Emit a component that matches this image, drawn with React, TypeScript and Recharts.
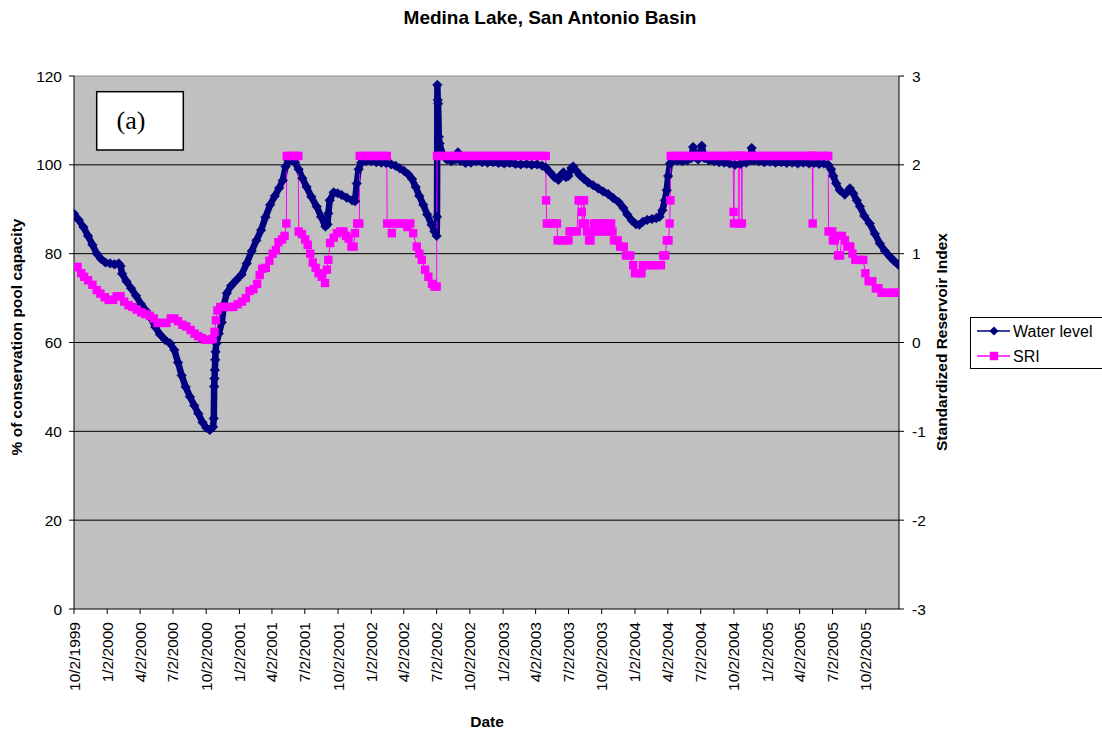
import React from 'react';
import { LineChart, Line, XAxis, YAxis, CartesianGrid, ReferenceLine } from 'recharts';

const FONT = 'Arial, "Liberation Sans", sans-serif';
const NAVY = '#000080';
const PINK = '#FF00FF';

// quarterly date ticks on the category axis
const dateTicks = [
  '10/2/1999', '1/2/2000', '4/2/2000', '7/2/2000', '10/2/2000', '1/2/2001', '4/2/2001',
  '7/2/2001', '10/2/2001', '1/2/2002', '4/2/2002', '7/2/2002', '10/2/2002', '1/2/2003',
  '4/2/2003', '7/2/2003', '10/2/2003', '1/2/2004', '4/2/2004', '7/2/2004', '10/2/2004',
  '1/2/2005', '4/2/2005', '7/2/2005', '10/2/2005',
];
const axisEnd = '1/2/2006';
const leftTicks = [0, 20, 40, 60, 80, 100, 120];
const rightTicks = [-3, -2, -1, 0, 1, 2, 3];

// % of conservation pool capacity
const waterLevel: [string, number][] = [
  ['1999-10-02', 89.0], ['1999-10-15', 87.6], ['1999-10-28', 86.0], ['1999-11-10', 84.0],
  ['1999-11-22', 82.0], ['1999-12-04', 80.0], ['1999-12-16', 78.8], ['1999-12-28', 78.0],
  ['2000-01-10', 77.8], ['2000-01-22', 77.6], ['2000-02-03', 77.8], ['2000-02-08', 77.2],
  ['2000-02-12', 75.5], ['2000-02-24', 73.8], ['2000-03-08', 72.2], ['2000-03-22', 70.5],
  ['2000-04-05', 68.6], ['2000-04-18', 67.2], ['2000-05-01', 65.6], ['2000-05-14', 63.5],
  ['2000-05-27', 61.8], ['2000-06-10', 60.6], ['2000-06-24', 59.8], ['2000-07-06', 58.3],
  ['2000-07-16', 55.5], ['2000-07-26', 52.6], ['2000-08-06', 50.0], ['2000-08-18', 47.8],
  ['2000-08-30', 45.8], ['2000-09-10', 44.0], ['2000-09-22', 42.0], ['2000-10-02', 40.8],
  ['2000-10-12', 40.3], ['2000-10-21', 41.0], ['2000-10-23', 42.9], ['2000-10-24', 50.1],
  ['2000-10-25', 51.9], ['2000-10-26', 53.8], ['2000-10-27', 56.1], ['2000-10-28', 57.9],
  ['2000-10-30', 59.8], ['2000-11-06', 62.0], ['2000-11-14', 64.5], ['2000-11-20', 68.5],
  ['2000-11-28', 71.1], ['2000-12-10', 72.8], ['2000-12-24', 74.0], ['2001-01-08', 75.3],
  ['2001-01-22', 77.8], ['2001-02-05', 80.6], ['2001-02-18', 83.0], ['2001-03-03', 85.3],
  ['2001-03-15', 88.2], ['2001-03-28', 91.0], ['2001-04-10', 93.0], ['2001-04-22', 94.8],
  ['2001-05-02', 96.5], ['2001-05-10', 99.6], ['2001-05-18', 101.0], ['2001-05-26', 101.1],
  ['2001-06-05', 100.5], ['2001-06-15', 99.0], ['2001-06-25', 97.0], ['2001-07-07', 95.0],
  ['2001-07-20', 92.8], ['2001-08-04', 90.6], ['2001-08-16', 88.3], ['2001-08-28', 86.1],
  ['2001-09-03', 86.6], ['2001-09-05', 89.1], ['2001-09-09', 92.0], ['2001-09-20', 93.8],
  ['2001-10-01', 93.6], ['2001-10-12', 93.2], ['2001-10-26', 92.6], ['2001-11-10', 92.0],
  ['2001-11-18', 91.8], ['2001-11-23', 95.8], ['2001-11-28', 99.0], ['2001-12-05', 100.5],
  ['2001-12-18', 100.8], ['2002-01-02', 100.8], ['2002-01-16', 100.6], ['2002-01-30', 100.5],
  ['2002-02-12', 100.4], ['2002-02-26', 100.1], ['2002-03-10', 99.8], ['2002-03-22', 99.2],
  ['2002-04-03', 98.6], ['2002-04-15', 97.8], ['2002-04-25', 96.8], ['2002-05-05', 95.0],
  ['2002-05-15', 93.0], ['2002-05-26', 91.0], ['2002-06-06', 88.8], ['2002-06-18', 86.5],
  ['2002-06-26', 85.0], ['2002-07-02', 84.0], ['2002-07-03', 88.3], ['2002-07-04', 118.0],
  ['2002-07-05', 114.6], ['2002-07-06', 113.8], ['2002-07-08', 106.3], ['2002-07-10', 104.8],
  ['2002-07-18', 102.5], ['2002-07-30', 101.2], ['2002-08-12', 100.8], ['2002-08-24', 101.2],
  ['2002-08-30', 102.8], ['2002-09-06', 100.9], ['2002-09-20', 100.4], ['2002-10-05', 100.5],
  ['2002-10-20', 100.8], ['2002-11-05', 100.6], ['2002-11-20', 100.5], ['2002-12-05', 100.6],
  ['2002-12-20', 100.4], ['2003-01-05', 100.3], ['2003-01-20', 100.4], ['2003-02-05', 100.2],
  ['2003-02-20', 100.1], ['2003-03-08', 100.2], ['2003-03-22', 100.0], ['2003-04-06', 100.1],
  ['2003-04-20', 99.8], ['2003-04-30', 99.4], ['2003-05-12', 98.3], ['2003-05-24', 97.2],
  ['2003-06-04', 96.6], ['2003-06-12', 97.8], ['2003-06-18', 98.3], ['2003-06-25', 97.2],
  ['2003-07-02', 97.5], ['2003-07-10', 99.3], ['2003-07-15', 99.6], ['2003-07-24', 98.6],
  ['2003-08-03', 97.6], ['2003-08-14', 96.8], ['2003-08-26', 96.0], ['2003-09-08', 95.4],
  ['2003-09-22', 94.7], ['2003-10-06', 94.0], ['2003-10-20', 93.4], ['2003-11-03', 92.5],
  ['2003-11-18', 91.6], ['2003-12-01', 90.3], ['2003-12-12', 88.8], ['2003-12-24', 87.5],
  ['2004-01-05', 86.6], ['2004-01-14', 86.5], ['2004-01-24', 87.2], ['2004-02-05', 87.6],
  ['2004-02-18', 87.8], ['2004-03-01', 88.0], ['2004-03-10', 88.3], ['2004-03-18', 89.8],
  ['2004-03-25', 92.0], ['2004-03-30', 94.3], ['2004-04-03', 97.5], ['2004-04-08', 100.3],
  ['2004-04-15', 100.8], ['2004-04-28', 101.0], ['2004-05-12', 100.8], ['2004-05-26', 101.0],
  ['2004-06-06', 101.5], ['2004-06-11', 104.0], ['2004-06-16', 101.8], ['2004-06-25', 101.2],
  ['2004-07-05', 104.3], ['2004-07-12', 101.5], ['2004-07-25', 101.0], ['2004-08-08', 100.8],
  ['2004-08-22', 100.6], ['2004-09-05', 100.5], ['2004-09-20', 100.3], ['2004-10-05', 100.0],
  ['2004-10-20', 100.2], ['2004-11-05', 100.5], ['2004-11-16', 101.0], ['2004-11-20', 103.8],
  ['2004-11-26', 101.0], ['2004-12-10', 100.8], ['2004-12-25', 100.6], ['2005-01-10', 100.7],
  ['2005-01-25', 100.5], ['2005-02-10', 100.6], ['2005-02-25', 100.4], ['2005-03-12', 100.5],
  ['2005-03-28', 100.3], ['2005-04-12', 100.5], ['2005-04-28', 100.3], ['2005-05-12', 100.4],
  ['2005-05-26', 100.2], ['2005-06-08', 100.3], ['2005-06-20', 100.0], ['2005-06-28', 99.0],
  ['2005-07-04', 97.5], ['2005-07-12', 95.8], ['2005-07-22', 94.3], ['2005-08-05', 93.3],
  ['2005-08-19', 94.7], ['2005-08-28', 93.6], ['2005-09-07', 92.0], ['2005-09-16', 90.6],
  ['2005-09-28', 88.5], ['2005-10-13', 86.8], ['2005-10-27', 84.5], ['2005-11-10', 82.3],
  ['2005-11-24', 80.6], ['2005-12-08', 79.3], ['2005-12-20', 78.3], ['2005-12-31', 77.5],
];

// Standardized Reservoir Index
const sriValues: [string, number][] = [
  ['1999-10-02', 0.85], ['1999-10-12', 0.85], ['1999-10-22', 0.78], ['1999-10-30', 0.74],
  ['1999-11-10', 0.70], ['1999-11-22', 0.65], ['1999-12-04', 0.59], ['1999-12-14', 0.55],
  ['1999-12-26', 0.51], ['2000-01-06', 0.48], ['2000-01-18', 0.48], ['2000-01-28', 0.52],
  ['2000-02-08', 0.52], ['2000-02-18', 0.46], ['2000-03-01', 0.42], ['2000-03-12', 0.40],
  ['2000-03-24', 0.37], ['2000-04-05', 0.34], ['2000-04-17', 0.32], ['2000-04-29', 0.30],
  ['2000-05-10', 0.27], ['2000-05-20', 0.22], ['2000-06-01', 0.22], ['2000-06-14', 0.22],
  ['2000-06-26', 0.27], ['2000-07-06', 0.27], ['2000-07-16', 0.24], ['2000-07-28', 0.20],
  ['2000-08-08', 0.18], ['2000-08-20', 0.14], ['2000-08-31', 0.10], ['2000-09-10', 0.07],
  ['2000-09-20', 0.05], ['2000-09-30', 0.03], ['2000-10-10', 0.03], ['2000-10-20', 0.04],
  ['2000-10-25', 0.12], ['2000-10-29', 0.25], ['2000-11-02', 0.36], ['2000-11-10', 0.40],
  ['2000-11-22', 0.40], ['2000-12-04', 0.40], ['2000-12-16', 0.40], ['2000-12-28', 0.43],
  ['2001-01-09', 0.46], ['2001-01-20', 0.50], ['2001-01-30', 0.58], ['2001-02-10', 0.60],
  ['2001-02-20', 0.66], ['2001-02-27', 0.76], ['2001-03-06', 0.83], ['2001-03-16', 0.84],
  ['2001-03-26', 0.92], ['2001-04-04', 1.00], ['2001-04-13', 1.04], ['2001-04-20', 1.13],
  ['2001-04-30', 1.16], ['2001-05-07', 1.20], ['2001-05-12', 1.34], ['2001-05-13', 2.1],
  ['2001-05-22', 2.1], ['2001-06-01', 2.1], ['2001-06-10', 2.1], ['2001-06-14', 2.1],
  ['2001-06-15', 1.25], ['2001-06-24', 1.22], ['2001-07-03', 1.16], ['2001-07-10', 1.10],
  ['2001-07-17', 1.00], ['2001-07-24', 0.90], ['2001-08-01', 0.84], ['2001-08-09', 0.78],
  ['2001-08-18', 0.74], ['2001-08-27', 0.67], ['2001-09-01', 0.82], ['2001-09-05', 0.93],
  ['2001-09-10', 1.12], ['2001-09-20', 1.18], ['2001-09-29', 1.23], ['2001-10-08', 1.25],
  ['2001-10-17', 1.25], ['2001-10-24', 1.20], ['2001-10-31', 1.17], ['2001-11-08', 1.08],
  ['2001-11-14', 1.08], ['2001-11-18', 1.23], ['2001-11-24', 1.34], ['2001-11-30', 1.34],
  ['2001-12-01', 2.1], ['2001-12-12', 2.1], ['2001-12-24', 2.1], ['2002-01-05', 2.1],
  ['2002-01-16', 2.1], ['2002-01-27', 2.1], ['2002-02-06', 2.1], ['2002-02-14', 2.1],
  ['2002-02-15', 1.34], ['2002-02-28', 1.23], ['2002-03-08', 1.34], ['2002-03-20', 1.34],
  ['2002-04-01', 1.34], ['2002-04-12', 1.30], ['2002-04-20', 1.34], ['2002-04-28', 1.23],
  ['2002-05-08', 1.08], ['2002-05-15', 1.00], ['2002-05-22', 0.93], ['2002-05-31', 0.82],
  ['2002-06-09', 0.74], ['2002-06-19', 0.66], ['2002-06-26', 0.63], ['2002-07-02', 0.63],
  ['2002-07-03', 2.1], ['2002-07-15', 2.1], ['2002-07-27', 2.1], ['2002-08-08', 2.1],
  ['2002-08-20', 2.1], ['2002-09-01', 2.1], ['2002-09-13', 2.1], ['2002-09-25', 2.1],
  ['2002-10-07', 2.1], ['2002-10-19', 2.1], ['2002-10-31', 2.1], ['2002-11-12', 2.1],
  ['2002-11-24', 2.1], ['2002-12-06', 2.1], ['2002-12-18', 2.1], ['2002-12-30', 2.1],
  ['2003-01-11', 2.1], ['2003-01-23', 2.1], ['2003-02-04', 2.1], ['2003-02-16', 2.1],
  ['2003-02-28', 2.1], ['2003-03-12', 2.1], ['2003-03-24', 2.1], ['2003-04-05', 2.1],
  ['2003-04-17', 2.1], ['2003-04-30', 2.1], ['2003-05-01', 1.6], ['2003-05-03', 1.34],
  ['2003-05-12', 1.34], ['2003-05-22', 1.34], ['2003-05-31', 1.34], ['2003-06-02', 1.15],
  ['2003-06-12', 1.15], ['2003-06-22', 1.15], ['2003-07-02', 1.15], ['2003-07-05', 1.25],
  ['2003-07-15', 1.25], ['2003-07-25', 1.25], ['2003-07-30', 1.6], ['2003-08-06', 1.6],
  ['2003-08-08', 1.47], ['2003-08-10', 1.34], ['2003-08-14', 1.6], ['2003-08-16', 1.34],
  ['2003-08-22', 1.25], ['2003-08-28', 1.15], ['2003-09-01', 1.15], ['2003-09-04', 1.25],
  ['2003-09-10', 1.34], ['2003-09-16', 1.25], ['2003-09-22', 1.34], ['2003-09-28', 1.25],
  ['2003-10-04', 1.34], ['2003-10-10', 1.25], ['2003-10-16', 1.34], ['2003-10-22', 1.25],
  ['2003-10-28', 1.34], ['2003-11-01', 1.25], ['2003-11-05', 1.15], ['2003-11-15', 1.15],
  ['2003-11-22', 1.08], ['2003-12-02', 1.08], ['2003-12-08', 0.98], ['2003-12-20', 0.98],
  ['2003-12-28', 0.87], ['2004-01-02', 0.78], ['2004-01-12', 0.78], ['2004-01-20', 0.78],
  ['2004-01-24', 0.87], ['2004-02-05', 0.87], ['2004-02-18', 0.87], ['2004-03-02', 0.87],
  ['2004-03-14', 0.87], ['2004-03-20', 0.98], ['2004-03-26', 0.98], ['2004-03-30', 1.15],
  ['2004-04-04', 1.15], ['2004-04-07', 1.34], ['2004-04-09', 1.6], ['2004-04-10', 2.1],
  ['2004-04-22', 2.1], ['2004-05-04', 2.1], ['2004-05-16', 2.1], ['2004-05-28', 2.1],
  ['2004-06-09', 2.1], ['2004-06-21', 2.1], ['2004-07-03', 2.1], ['2004-07-15', 2.1],
  ['2004-07-27', 2.1], ['2004-08-08', 2.1], ['2004-08-20', 2.1], ['2004-09-01', 2.1],
  ['2004-09-13', 2.1], ['2004-09-25', 2.1], ['2004-09-30', 2.1], ['2004-10-01', 1.47],
  ['2004-10-02', 1.34], ['2004-10-03', 2.1], ['2004-10-15', 2.1], ['2004-10-16', 1.34],
  ['2004-10-17', 2.1], ['2004-10-23', 2.1], ['2004-10-24', 1.34], ['2004-10-25', 2.1],
  ['2004-11-06', 2.1], ['2004-11-18', 2.1], ['2004-11-30', 2.1], ['2004-12-12', 2.1],
  ['2004-12-24', 2.1], ['2005-01-05', 2.1], ['2005-01-17', 2.1], ['2005-01-29', 2.1],
  ['2005-02-10', 2.1], ['2005-02-22', 2.1], ['2005-03-06', 2.1], ['2005-03-18', 2.1],
  ['2005-03-30', 2.1], ['2005-04-11', 2.1], ['2005-04-23', 2.1], ['2005-05-05', 2.1],
  ['2005-05-07', 2.1], ['2005-05-08', 1.34], ['2005-05-09', 2.1], ['2005-05-20', 2.1],
  ['2005-06-01', 2.1], ['2005-06-12', 2.1], ['2005-06-20', 2.1], ['2005-06-21', 1.25],
  ['2005-07-01', 1.25], ['2005-07-03', 1.15], ['2005-07-08', 1.15], ['2005-07-12', 1.20],
  ['2005-07-17', 0.98], ['2005-07-23', 0.98], ['2005-07-28', 1.20], ['2005-08-05', 1.15],
  ['2005-08-12', 1.08], ['2005-08-20', 1.08], ['2005-08-26', 1.00], ['2005-09-03', 0.93],
  ['2005-09-15', 0.93], ['2005-09-25', 0.93], ['2005-10-01', 0.78], ['2005-10-10', 0.69],
  ['2005-10-20', 0.69], ['2005-10-30', 0.61], ['2005-11-06', 0.61], ['2005-11-15', 0.56],
  ['2005-11-28', 0.56], ['2005-12-10', 0.56], ['2005-12-20', 0.56], ['2005-12-31', 0.56],
];

// days counted from the first date on the axis
const BASE = Date.UTC(1999, 9, 2);
const DAY = 86400000;
const isoDay = (s: string) => {
  const [y, m, d] = s.split('-').map(Number);
  return Math.round((Date.UTC(y, m - 1, d) - BASE) / DAY);
};
const usDay = (s: string) => {
  const [m, d, y] = s.split('/').map(Number);
  return Math.round((Date.UTC(y, m - 1, d) - BASE) / DAY);
};

const tickDays = dateTicks.map(usDay);
const tickText = new Map(tickDays.map((t, i) => [t, dateTicks[i]]));

type Row = { t: number; level: number | null; sri: number | null };
const byDay = new Map<number, Row>();
const rowAt = (t: number) => {
  let r = byDay.get(t);
  if (!r) { r = { t, level: null, sri: null }; byDay.set(t, r); }
  return r;
};
waterLevel.forEach(([d, v]) => { rowAt(isoDay(d)).level = v; });
sriValues.forEach(([d, v]) => { rowAt(isoDay(d)).sri = v; });
const chartData = [...byDay.values()].sort((a, b) => a.t - b.t);

const DateTick = (props: any) => {
  const { x, y, payload } = props;
  const bx = x + 5.5;
  const by = y + 6;
  return (
    <text x={bx} y={by} transform={`rotate(-90 ${bx} ${by})`} textAnchor="end"
      fontSize={15.5} fontFamily={FONT} fill="#000">
      {tickText.get(payload.value) ?? ''}
    </text>
  );
};

const Diamond = (p: any) => {
  const { cx, cy, index, payload } = p;
  if (cx == null || cy == null || payload?.level == null) return <g key={`wd${index}`} />;
  const r = 4.8;
  return (
    <polygon key={`wd${index}`} fill={NAVY} stroke={NAVY} strokeWidth={0.5}
      points={`${cx},${cy - r} ${cx + r},${cy} ${cx},${cy + r} ${cx - r},${cy}`} />
  );
};

const Square = (p: any) => {
  const { cx, cy, index, payload } = p;
  if (cx == null || cy == null || payload?.sri == null) return <g key={`sq${index}`} />;
  return <rect key={`sq${index}`} x={cx - 4.2} y={cy - 4.2} width={8.4} height={8.4} fill={PINK} />;
};

export default function App() {
  return (
    <div style={{ position: 'absolute', left: 0, top: 0, width: 1102, height: 733, background: '#fff' }}>
      <LineChart
        width={1102}
        height={733}
        data={chartData}
        margin={{ top: 76, right: 163, bottom: 24, left: 0 }}
      >
        <CartesianGrid yAxisId="left" vertical={false} fill="#C0C0C0" fillOpacity={1}
          stroke="#000" strokeWidth={1} horizontalValues={[20, 40, 60, 80, 100]} />
        <XAxis
          dataKey="t"
          type="number"
          domain={[0, usDay(axisEnd)]}
          ticks={tickDays}
          interval={0}
          allowDataOverflow
          height={100}
          tickSize={5}
          tick={<DateTick />}
          stroke="#000"
        />
        <YAxis
          yAxisId="left"
          width={74}
          domain={[0, 120]}
          ticks={leftTicks}
          interval={0}
          tickSize={5}
          tickMargin={7}
          stroke="#000"
          tick={{ fill: '#000', fontSize: 15.5, fontFamily: FONT }}
        />
        <YAxis
          yAxisId="right"
          orientation="right"
          width={40}
          domain={[-3, 3]}
          ticks={rightTicks}
          interval={0}
          tickSize={5}
          tickMargin={8}
          stroke="#000"
          tick={{ fill: '#000', fontSize: 15.5, fontFamily: FONT }}
        />
        <ReferenceLine yAxisId="left" y={120} stroke="#8c8c8c" strokeWidth={1} />
        {/* daily markers in the source merge into a solid band */}
        <Line
          yAxisId="left"
          dataKey="level"
          type="linear"
          stroke={NAVY}
          strokeWidth={6.5}
          strokeLinejoin="round"
          strokeLinecap="round"
          dot={Diamond}
          activeDot={false}
          connectNulls
          isAnimationActive={false}
        />
        <Line
          yAxisId="right"
          dataKey="sri"
          type="linear"
          stroke={PINK}
          strokeWidth={1}
          dot={Square}
          activeDot={false}
          connectNulls
          isAnimationActive={false}
        />
      </LineChart>

      <svg width={1102} height={733} style={{ position: 'absolute', left: 0, top: 0, pointerEvents: 'none' }}>
        <text x={550} y={24} textAnchor="middle" fontFamily={FONT} fontWeight="bold" fontSize={19} fill="#000">
          Medina Lake, San Antonio Basin
        </text>
        <text x={22} y={337} transform="rotate(-90 22 337)" textAnchor="middle"
          fontFamily={FONT} fontWeight="bold" fontSize={15.5} fill="#000">
          % of conservation pool capacity
        </text>
        <text x={947} y={342} transform="rotate(-90 947 342)" textAnchor="middle"
          fontFamily={FONT} fontWeight="bold" fontSize={15.5} fill="#000">
          Standardized Reservoir Index
        </text>
        <text x={487} y={727} textAnchor="middle" fontFamily={FONT} fontWeight="bold" fontSize={15.5} fill="#000">
          Date
        </text>

        <rect x={96.7} y={91.7} width={86.6} height={58.3} fill="#fff" stroke="#000" strokeWidth={1.5} />
        <text x={116.5} y={129} fontFamily='"Times New Roman", "Liberation Serif", serif' fontSize={26} fill="#000">
          (a)
        </text>

        <rect x={970.5} y={317.5} width={140} height={51} fill="#fff" stroke="#000" strokeWidth={1} />
        <line x1={977} y1={331} x2={1010} y2={331} stroke={NAVY} strokeWidth={1.5} />
        <polygon points="994,326.4 998.6,331 994,335.6 989.4,331" fill={NAVY} />
        <text x={1013} y={336.8} fontFamily={FONT} fontSize={16} fill="#000">Water level</text>
        <line x1={977} y1={356} x2={1010} y2={356} stroke={PINK} strokeWidth={1.5} />
        <rect x={989.8} y={351.8} width={8.4} height={8.4} fill={PINK} />
        <text x={1013} y={361.8} fontFamily={FONT} fontSize={16} fill="#000">SRI</text>
      </svg>
    </div>
  );
}
